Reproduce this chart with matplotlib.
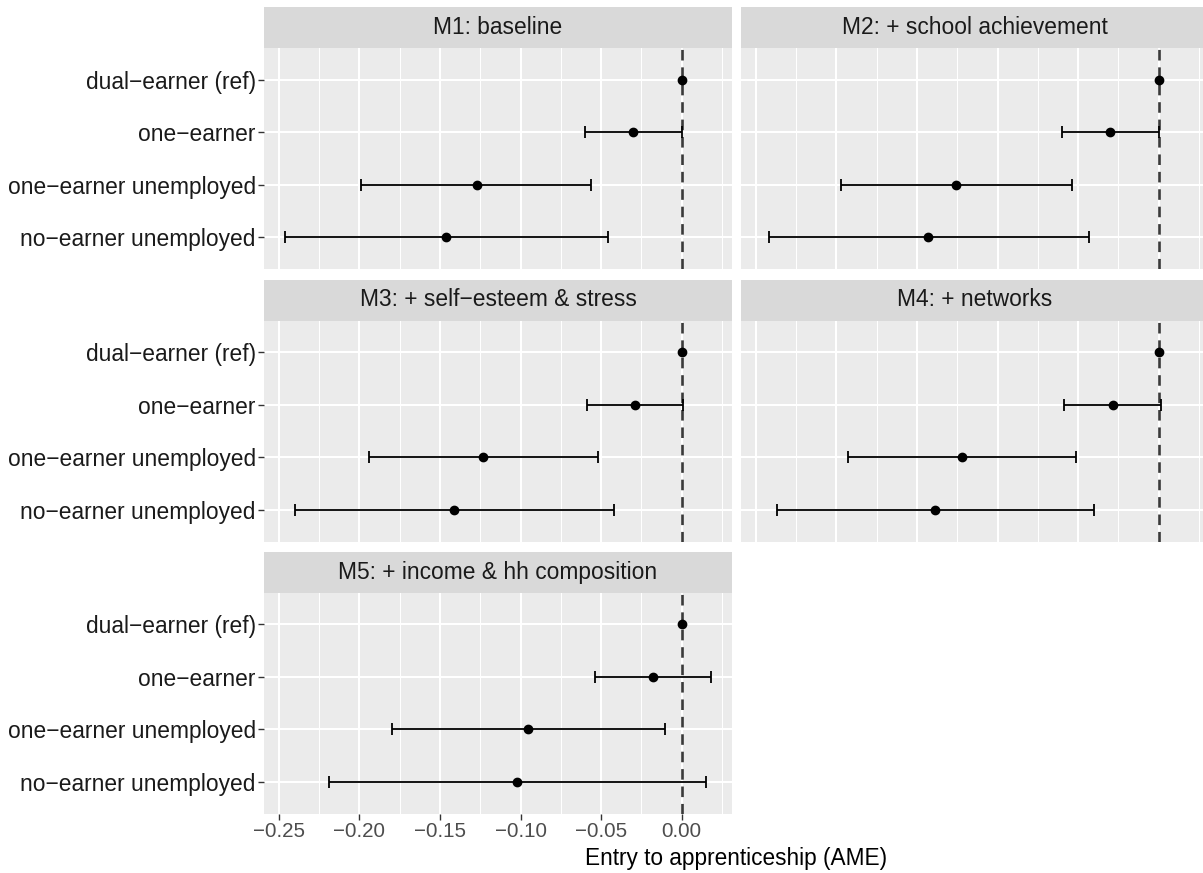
import numpy as np
import matplotlib.pyplot as plt

plt.rcParams['font.family'] = ['Liberation Sans', 'DejaVu Sans']

categories = ["dual\u2212earner (ref)", "one\u2212earner",
              "one\u2212earner unemployed", "no\u2212earner unemployed"]
models = ["M1: baseline", "M2: + school achievement",
          "M3: + self\u2212esteem & stress", "M4: + networks",
          "M5: + income & hh composition"]
nan = np.nan

# average marginal effects + 95% CI, order = categories
m1_est = [0.0, -0.030, -0.127, -0.146]
m1_lo = [nan, -0.060, -0.199, -0.246]
m1_hi = [nan, 0.000, -0.056, -0.046]

m2_est = [0.0, -0.030, -0.1255, -0.143]
m2_lo = [nan, -0.060, -0.197, -0.242]
m2_hi = [nan, 0.000, -0.054, -0.043]

m3_est = [0.0, -0.029, -0.123, -0.141]
m3_lo = [nan, -0.059, -0.194, -0.240]
m3_hi = [nan, 0.001, -0.052, -0.042]

m4_est = [0.0, -0.0285, -0.122, -0.139]
m4_lo = [nan, -0.0586, -0.193, -0.237]
m4_hi = [nan, 0.0012, -0.0513, -0.040]

m5_est = [0.0, -0.018, -0.0955, -0.102]
m5_lo = [nan, -0.054, -0.180, -0.2186]
m5_hi = [nan, 0.018, -0.0104, 0.0148]

est = [m1_est, m2_est, m3_est, m4_est, m5_est]
lo = [m1_lo, m2_lo, m3_lo, m4_lo, m5_lo]
hi = [m1_hi, m2_hi, m3_hi, m4_hi, m5_hi]

W, H = 1203, 873
fig = plt.figure(figsize=(W / 100, H / 100), dpi=100)

# shared x scale like facet_wrap, with 5% expansion
xmin = np.nanmin(np.array(lo))
xmax = np.nanmax(np.array(hi))
pad = (xmax - xmin) * 0.05
xlim = (xmin - pad, xmax + pad)

pw, ph, sh = 468, 221, 41
lefts = [264, 741]
tops = [48, 320.5, 592.5]
ypos = np.arange(len(categories))[::-1]

for i, m in enumerate(models):
    r, c = divmod(i, 2)
    x0, y0 = lefts[c], tops[r]
    ax = fig.add_axes([x0 / W, 1 - (y0 + ph) / H, pw / W, ph / H])
    sax = fig.add_axes([x0 / W, 1 - y0 / H, pw / W, sh / H])
    sax.set_facecolor('#D9D9D9')
    sax.set_xticks([]); sax.set_yticks([])
    for s in sax.spines.values():
        s.set_visible(False)
    sax.text(0.5, 0.5, m, ha='center', va='center', fontsize=16.4,
             color='#1A1A1A', transform=sax.transAxes)

    ax.set_facecolor('#EBEBEB')
    for s in ax.spines.values():
        s.set_visible(False)
    ax.set_xlim(xlim)
    ax.set_ylim(-0.6, len(categories) - 0.4)
    ax.set_xticks(np.arange(-0.25, 0.001, 0.05))
    ax.set_xticks(np.arange(-0.225, 0.03, 0.05), minor=True)
    ax.set_yticks(ypos)
    ax.grid(True, which='major', color='white', linewidth=1.5)
    ax.grid(True, which='minor', axis='x', color='white', linewidth=0.75)
    ax.set_axisbelow(True)
    ax.tick_params(which='minor', length=0)

    ax.axvline(0, color='#3A3A3A', linewidth=1.9, linestyle=(0, (4, 2.6)), zorder=2)
    e = np.array(est[i]); l = np.array(lo[i]); h = np.array(hi[i])
    ax.errorbar(e, ypos, xerr=[e - l, h - e], fmt='o', color='black',
                markersize=6, elinewidth=1.3, capsize=4.4, capthick=1.3, zorder=3)

    if c == 0:
        ax.set_yticklabels(categories, fontsize=16.4, color='#1A1A1A')
        ax.tick_params(axis='y', length=4, width=1, color='#333333', pad=2)
    else:
        ax.tick_params(axis='y', length=0, labelleft=False)
    if i == 4:
        ax.set_xticklabels(["\u22120.25", "\u22120.20", "\u22120.15", "\u22120.10",
                            "\u22120.05", "0.00"], fontsize=14.8, color='#4D4D4D')
        ax.tick_params(axis='x', length=4, width=1, color='#333333', pad=2)
    else:
        ax.tick_params(axis='x', length=0, labelbottom=False)

fig.text(736 / W, 1 - 858 / H, "Entry to apprenticeship (AME)", ha='center',
         va='center', fontsize=16.3, color='black')

fig.savefig('out.png', dpi=100, facecolor='white')
